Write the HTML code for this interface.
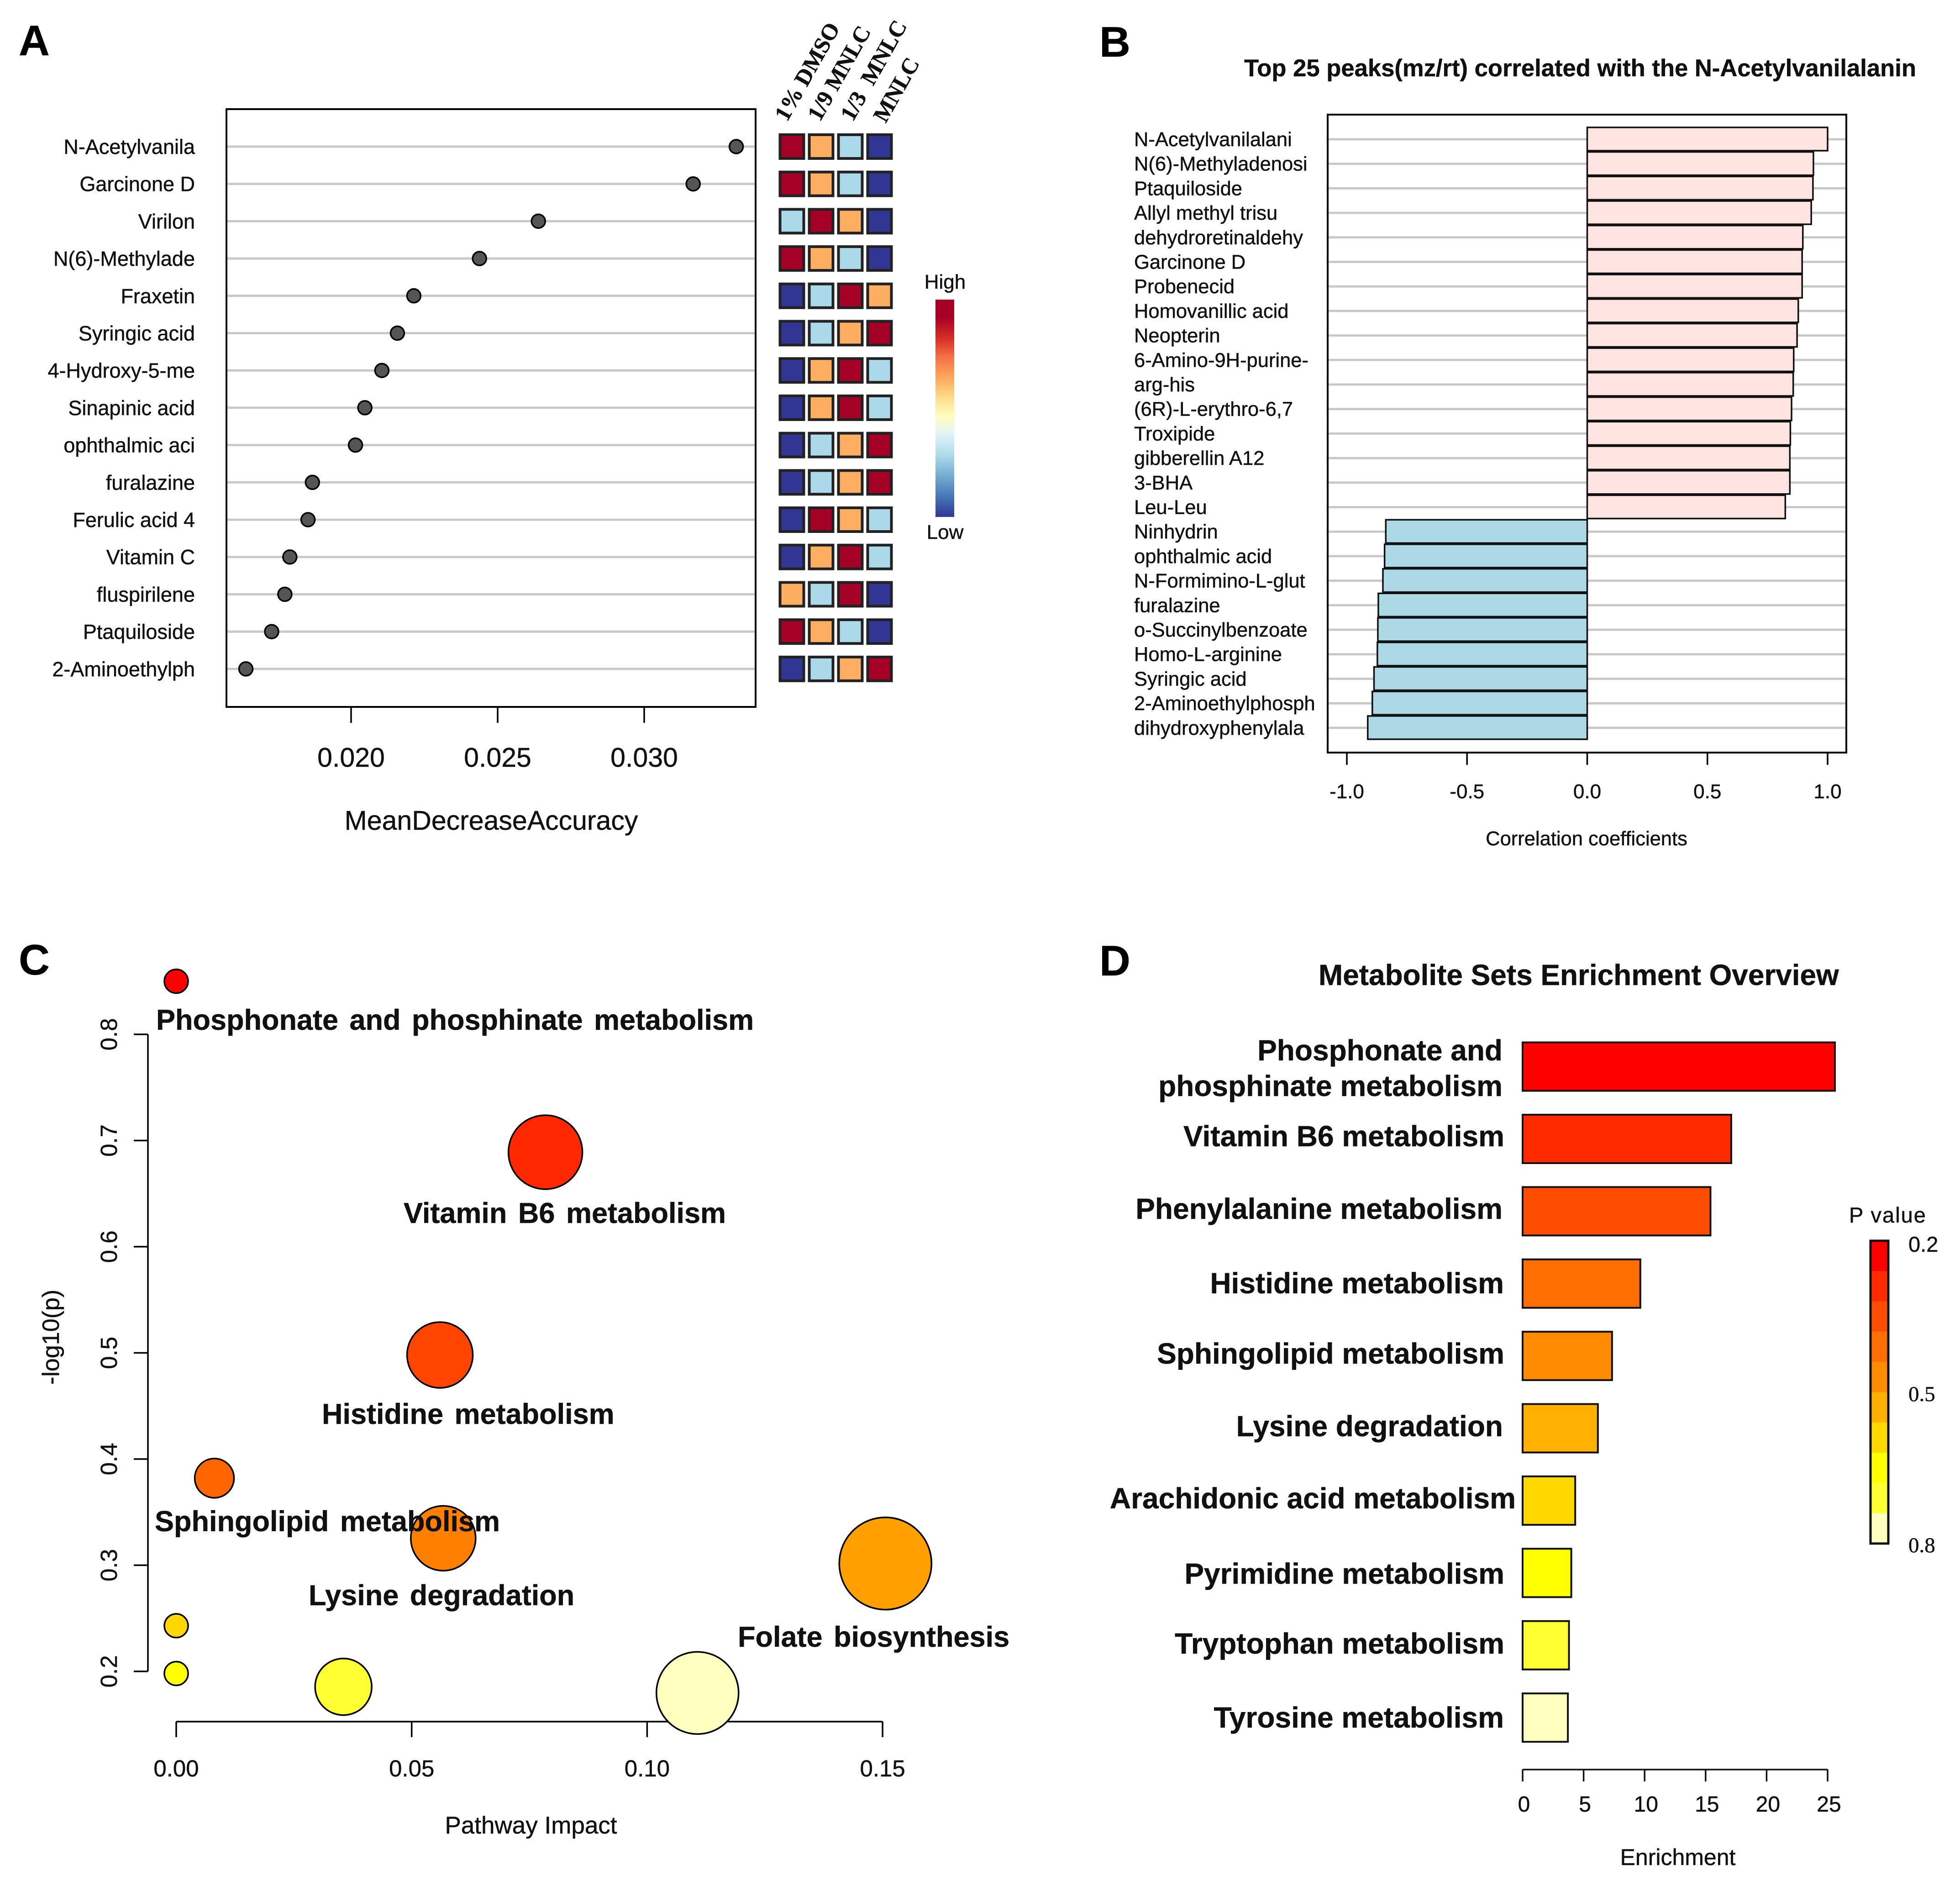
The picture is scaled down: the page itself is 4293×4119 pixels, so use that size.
<!DOCTYPE html>
<html lang="en">
<head>
<meta charset="utf-8">
<title>Metabolomics multi-panel figure</title>
<style>
html,body{margin:0;padding:0;background:#fff;}
svg{display:block;font-family:"Liberation Sans",sans-serif;}
text{fill:#111;stroke:#111;stroke-width:0.5px;}
.letter{font-size:94px;font-weight:700;fill:#000;}
.serif{font-family:"Liberation Serif",serif;}
.bold{font-weight:700;}
</style>
</head>
<body>
<svg id="figure" xmlns="http://www.w3.org/2000/svg" width="4293" height="4119" viewBox="0 0 4293 4119">
  <defs>
    <linearGradient id="rdylbu" x1="0" y1="0" x2="0" y2="1">
      <stop offset="0" stop-color="#A50026"/><stop offset="0.08" stop-color="#A50026"/>
      <stop offset="0.18" stop-color="#D73027"/><stop offset="0.26" stop-color="#F46D43"/>
      <stop offset="0.37" stop-color="#FDAE61"/><stop offset="0.46" stop-color="#FEE090"/>
      <stop offset="0.54" stop-color="#FFFFBF"/><stop offset="0.62" stop-color="#E0F3F8"/>
      <stop offset="0.72" stop-color="#ABD9E9"/><stop offset="0.81" stop-color="#74ADD1"/>
      <stop offset="0.91" stop-color="#4575B4"/><stop offset="1" stop-color="#313695"/>
    </linearGradient>
  </defs>
  <rect width="4293" height="4119" fill="#fff"/>

  <g id="panelA">
    <text class="letter" x="41" y="121">A</text>
    <text x="1076" y="1817" font-size="59" text-anchor="middle">MeanDecreaseAccuracy</text>
    <rect x="2049" y="656" width="41" height="476" fill="url(#rdylbu)"/>
    <text x="2070" y="632" font-size="44" text-anchor="middle">High</text>
    <text x="2070" y="1180" font-size="44" text-anchor="middle">Low</text>
  </g>

  <g id="panelB">
    <text class="letter" x="2408" y="124">B</text>
    <text class="bold" x="2725" y="167" font-size="52.6">Top 25 peaks(mz/rt) correlated with the N-Acetylvanilalanin</text>
    <text x="3475" y="1851" font-size="43.5" text-anchor="middle">Correlation coefficients</text>
  </g>

  <g id="panelC">
    <text class="letter" x="41" y="2134">C</text>
    <text x="1163" y="4015" font-size="53" text-anchor="middle">Pathway Impact</text>
    <text x="129" y="2928" font-size="52" text-anchor="middle" transform="rotate(-90 129 2928)">-log10(p)</text>
  </g>

  <g id="panelD">
    <text class="letter" x="2408" y="2136">D</text>
    <text class="bold" x="2888" y="2157" font-size="63.9">Metabolite Sets Enrichment Overview</text>
    <text x="3675" y="4084" font-size="50" text-anchor="middle">Enrichment</text>
    <text x="4050" y="2677" font-size="47" letter-spacing="2">P value</text>
    <text x="4180" y="2741" font-size="47">0.2</text>
    <text class="serif" x="4180" y="3068" font-size="47">0.5</text>
    <text class="serif" x="4180" y="3399" font-size="47">0.8</text>
  </g>
</svg>

<script>
/* ---------- Panel A data ---------- */
const importanceNames = ["N-Acetylvanila","Garcinone D","Virilon","N(6)-Methylade","Fraxetin","Syringic acid","4-Hydroxy-5-me","Sinapinic acid","ophthalmic aci","furalazine","Ferulic acid 4","Vitamin C","fluspirilene","Ptaquiloside","2-Aminoethylph"];
const importanceValues = [0.03314,0.03167,0.02639,0.02438,0.02214,0.02158,0.02105,0.02047,0.02015,0.01868,0.01853,0.01791,0.01774,0.01729,0.01641];
const importanceTicks = ["0.020","0.025","0.030"];
const heatGroups = ["1% DMSO","1/9 MNLC","1/3 MNLC","MNLC"];
const heatRow01 = [3,2,1,0];
const heatRow02 = [3,2,1,0];
const heatRow03 = [1,3,2,0];
const heatRow04 = [3,2,1,0];
const heatRow05 = [0,1,3,2];
const heatRow06 = [0,1,2,3];
const heatRow07 = [0,2,3,1];
const heatRow08 = [0,2,3,1];
const heatRow09 = [0,1,2,3];
const heatRow10 = [0,1,2,3];
const heatRow11 = [0,3,2,1];
const heatRow12 = [0,2,3,1];
const heatRow13 = [2,1,3,0];
const heatRow14 = [3,2,1,0];
const heatRow15 = [0,1,2,3];

/* ---------- Panel B data ---------- */
const correlationNames = ["N-Acetylvanilalani","N(6)-Methyladenosi","Ptaquiloside","Allyl methyl trisu","dehydroretinaldehy","Garcinone D","Probenecid","Homovanillic acid","Neopterin","6-Amino-9H-purine-","arg-his","(6R)-L-erythro-6,7","Troxipide","gibberellin A12","3-BHA","Leu-Leu","Ninhydrin","ophthalmic acid","N-Formimino-L-glut","furalazine","o-Succinylbenzoate","Homo-L-arginine","Syringic acid","2-Aminoethylphosph","dihydroxyphenylala"];
const correlationValues = [1.0,0.941,0.939,0.932,0.897,0.894,0.894,0.878,0.873,0.859,0.857,0.85,0.845,0.843,0.843,0.824,-0.838,-0.843,-0.85,-0.869,-0.871,-0.873,-0.887,-0.894,-0.913];
const correlationTicks = ["-1.0","-0.5","0.0","0.5","1.0"];

/* ---------- Panel C data ---------- */
const pathwayNames = ["Phosphonate and phosphinate metabolism","Vitamin B6 metabolism","Histidine metabolism","Sphingolipid metabolism","Lysine degradation","Folate biosynthesis","Arachidonic acid metabolism","Pyrimidine metabolism","Tryptophan metabolism","Tyrosine metabolism"];
const pathwayImpact = [0,0.0784,0.056,0.0081,0.0567,0.1506,0,0,0.0355,0.1107];
const pathwayLogP = [0.85,0.689,0.498,0.382,0.3254,0.3016,0.243,0.198,0.1855,0.1797];
const pathwayBubbleSize = [2.6,8.1,7.2,4.3,7.1,10.1,2.6,2.6,6.2,9.0];
const pathwayLabelled = [1,1,1,1,1,1,0,0,0,0];
const impactTicks = ["0.00","0.05","0.10","0.15"];
const logPTicks = ["0.2","0.3","0.4","0.5","0.6","0.7","0.8"];

/* ---------- Panel D data ---------- */
const enrichmentNames = [["Phosphonate and","phosphinate metabolism"],["Vitamin B6 metabolism"],["Phenylalanine metabolism"],["Histidine metabolism"],["Sphingolipid metabolism"],["Lysine degradation"],["Arachidonic acid metabolism"],["Pyrimidine metabolism"],["Tryptophan metabolism"],["Tyrosine metabolism"]];
const enrichmentValues = [25.6,17.1,15.4,9.65,7.33,6.17,4.31,3.99,3.8,3.71];
const enrichmentTicks = ["0","5","10","15","20","25"];

/* ---------- Style tables ---------- */
const heatColours = ["#313695","#ABD9E9","#FDAE61","#A50026"];
const enrichColours = ["#FF0000","#FF2A00","#FF4D00","#FF6E00","#FF8C00","#FFB000","#FFD800","#FFFF00","#FFFF33","#FFFFC0"];
const bubbleColours = ["#FF0000","#FF2800","#FF4500","#FF6600","#FF8000","#FFA000","#FFD700","#FFFF00","#FFFF33","#FFFFC0"];

const NS = "http://www.w3.org/2000/svg";
function mk(tag, attrs, parent, txt) {
  const el = document.createElementNS(NS, tag);
  for (const k in attrs) el.setAttribute(k, attrs[k]);
  if (txt !== undefined) el.textContent = txt;
  parent.appendChild(el);
  return el;
}

/* ---------- Panel A ---------- */
(function () {
  const g = document.getElementById("panelA");
  const xA = v => 769 + (v - 0.02) * 64200;
  const rowA = i => 321 + 81.7 * i;
  const heat = [heatRow01,heatRow02,heatRow03,heatRow04,heatRow05,heatRow06,heatRow07,heatRow08,heatRow09,heatRow10,heatRow11,heatRow12,heatRow13,heatRow14,heatRow15];
  const heatX = j => 1734.5 + 64 * j;

  importanceNames.forEach((n, i) => {
    const ln = mk("line", {x1:496, x2:1655, y1:rowA(i), y2:rowA(i), stroke:"#c8c8c8", "stroke-width":5}, g);
    
    
    const lb = mk("text", {x:427, y:rowA(i)+16, "font-size":45, "text-anchor":"end"}, g, n);
    
    
  });
  importanceValues.forEach((v, i) => {
    const d = mk("circle", {cx:xA(v), cy:rowA(i), r:15, fill:"#555", stroke:"#000", "stroke-width":3.5}, g);
    
    
  });
  const box = mk("rect", {x:496, y:239, width:1159, height:1309, fill:"none", stroke:"#000", "stroke-width":4}, g);
  
  
  importanceTicks.forEach(t => {
    const x = xA(parseFloat(t));
    const tk = mk("line", {x1:x, x2:x, y1:1548, y2:1583, stroke:"#000", "stroke-width":3.5}, g);
    
    
    const tl = mk("text", {x:x, y:1679, "font-size":59, "text-anchor":"middle"}, g, t);
    
    
  });
  heat.forEach((row, i) => {
    row.forEach((lvl, j) => {
      const c = mk("rect", {x:heatX(j)-26, y:rowA(i)-26, width:52, height:52, fill:heatColours[lvl], stroke:"#222", "stroke-width":6}, g);
      
      
    });
  });
  heatGroups.forEach((n, j) => {
    const x = 1724 + 72 * j;
    const y = j === 3 ? 271 : 268;
    const t = mk("text", {x:x, y:y, "font-size":50, "font-weight":700, "class":"serif", "word-spacing":j === 2 ? 14 : 0, transform:"rotate(-60.5 "+x+" "+y+")"}, g, n);
    
    
  });
})();

/* ---------- Panel B ---------- */
(function () {
  const g = document.getElementById("panelB");
  const xB = v => 3476.5 + 526.5 * v;
  const rowB = i => 305 + 53.7 * i;
  correlationNames.forEach((n, i) => {
    const ln = mk("line", {x1:2908, x2:4044, y1:rowB(i), y2:rowB(i), stroke:"#c8c8c8", "stroke-width":5}, g);
    
    
    const lb = mk("text", {x:2484, y:rowB(i)+15, "font-size":43.5}, g, n);
    
    
  });
  correlationValues.forEach((v, i) => {
    const x0 = Math.min(xB(0), xB(v));
    const w = Math.abs(xB(v) - xB(0));
    const b = mk("rect", {x:x0, y:rowB(i)-26, width:w, height:51, fill:v >= 0 ? "#FFE4E1" : "#ADD8E6", stroke:"#111", "stroke-width":3.5}, g);
    
    
  });
  const box = mk("rect", {x:2908, y:251, width:1136, height:1397, fill:"none", stroke:"#000", "stroke-width":4}, g);
  
  
  correlationTicks.forEach(t => {
    const x = xB(parseFloat(t));
    const tk = mk("line", {x1:x, x2:x, y1:1648, y2:1675, stroke:"#000", "stroke-width":3.5}, g);
    
    
    const tl = mk("text", {x:x, y:1748, "font-size":44, "text-anchor":"middle"}, g, t);
    
    
  });
})();

/* ---------- Panel C ---------- */
(function () {
  const g = document.getElementById("panelC");
  const xC = v => 386 + v * 10314;
  const yC = v => 3660 - (v - 0.2) * 2325;
  const rC = s => s * 10;
  const labelPos = [[342,2255],[884,2678],[705,3118],[339,3353],[676,3515],[1616,3606]];

  const ya = mk("line", {x1:324, x2:324, y1:yC(0.8), y2:yC(0.2), stroke:"#000", "stroke-width":3.5}, g);
  
  
  logPTicks.forEach(t => {
    const y = yC(parseFloat(t));
    const tk = mk("line", {x1:293, x2:324, y1:y, y2:y, stroke:"#000", "stroke-width":3.5}, g);
    
    
    const tl = mk("text", {x:256, y:y, "font-size":51, "text-anchor":"middle", transform:"rotate(-90 256 "+y+")"}, g, t);
    
    
  });
  const xa = mk("line", {x1:xC(0), x2:xC(0.15), y1:3770, y2:3770, stroke:"#000", "stroke-width":3.5}, g);
  
  
  impactTicks.forEach(t => {
    const x = xC(parseFloat(t));
    const tk = mk("line", {x1:x, x2:x, y1:3770, y2:3804, stroke:"#000", "stroke-width":3.5}, g);
    
    
    const tl = mk("text", {x:x, y:3890, "font-size":51, "text-anchor":"middle"}, g, t);
    
    
  });
  pathwayImpact.forEach((v, i) => {
    const b = mk("circle", {cx:xC(v), cy:yC(pathwayLogP[i]), r:rC(pathwayBubbleSize[i]), fill:bubbleColours[i], stroke:"#000", "stroke-width":3.5}, g);
    
    
  });
  pathwayNames.forEach((n, i) => {
    if (!pathwayLabelled[i]) return;
    const t = mk("text", {x:labelPos[i][0], y:labelPos[i][1], "font-size":63, "font-weight":700, "word-spacing":7}, g, n);
    
    
  });
})();

/* ---------- Panel D ---------- */
(function () {
  const g = document.getElementById("panelD");
  const xD = v => 3335 + 26.72 * v;
  const rowD = i => 2335.6 + 158.4 * i;
  const labelRight = [3291,3295,3291,3294,3295,3292,3320,3295,3295,3294];
  const labelBase = [[2322,2400],[2510],[2669],[2832],[2986],[3145],[3303],[3468],[3621],[3783]];

  enrichmentValues.forEach((v, i) => {
    const b = mk("rect", {x:xD(0), y:rowD(i)-53, width:xD(v)-xD(0), height:106, fill:enrichColours[i], stroke:"#111", "stroke-width":4}, g);
    
    
  });
  enrichmentNames.forEach((lines, i) => {
    lines.forEach((s, k) => {
      const t = mk("text", {x:labelRight[i], y:labelBase[i][k], "font-size":64, "font-weight":700, "text-anchor":"end"}, g, s);
      
      
    });
  });
  const ax = mk("line", {x1:xD(0), x2:xD(25), y1:3875, y2:3875, stroke:"#111", "stroke-width":3.5}, g);
  
  
  enrichmentTicks.forEach(t => {
    const x = xD(parseFloat(t));
    const tk = mk("line", {x1:x, x2:x, y1:3875, y2:3901, stroke:"#111", "stroke-width":3.5}, g);
    
    
    const tl = mk("text", {x:x+3, y:3967, "font-size":48, "text-anchor":"middle"}, g, t);
    
    
  });
  const segH = (3380 - 2717) / enrichColours.length;
  enrichColours.forEach((c, i) => {
    const s = mk("rect", {x:4097, y:2717 + segH * i, width:39, height:segH + 0.5, fill:c}, g);
    
    
  });
  const fr = mk("rect", {x:4097, y:2717, width:39, height:663, fill:"none", stroke:"#111", "stroke-width":5}, g);
  
  
})();
</script>
</body>
</html>
